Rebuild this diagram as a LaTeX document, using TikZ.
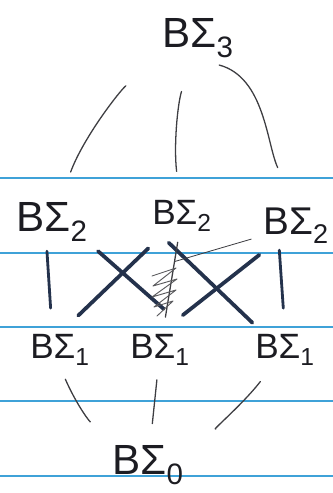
\documentclass[tikz,border=0pt]{standalone}
\usepackage{fontspec}
\setmainfont{Liberation Sans}
\usepackage{tikz}
\usetikzlibrary{positioning,calc}
\definecolor{ink}{HTML}{1C1C22}
\definecolor{navyink}{HTML}{24324C}
\definecolor{pencil}{HTML}{3E3E42}
\definecolor{ruleblue}{HTML}{3FA2D8}
\newcommand{\bsig}[1]{BΣ\textsubscript{#1}}
\tikzset{
    every picture/.style={line cap=round,line join=round},
    sigmanode/.style={text=ink,inner sep=1pt,font=\fontsize{36}{40}\selectfont},
    smallsigma/.style={sigmanode,font=\fontsize{30}{34}\selectfont},
    ruling/.style={draw=ruleblue,line width=0.9pt},
    thinstroke/.style={draw=pencil,line width=1.1pt},
    heavystroke/.style={draw=navyink,line width=3.2pt},
    barstroke/.style={draw=navyink,line width=2.4pt},
    scribble/.style={draw=pencil!85,line width=0.8pt}
}

\begin{document}
\begin{tikzpicture}[x=0.03cm,y=-0.03cm,on grid]
    \useasboundingbox (0,0) rectangle (333,493);
    % lined paper
    \foreach \y in {178,253,327,401,476}
        \draw[ruling] (0,\y)--(333,\y);
    % levels
    \node[sigmanode] (top) at (198,38) {\bsig{3}};
    \node[sigmanode,below left=55.2mm and 43.8mm of top] (l2) {\bsig{2}};
    \node[smallsigma,below left=53.4mm and 4.8mm of top] (m2) {\bsig{2}};
    \node[sigmanode,font=\fontsize{33}{36}\selectfont,below right=56.4mm and 29.4mm of top] (r2) {\bsig{2}};
    \node[smallsigma,below right=38.4mm and 2.4mm of l2] (l1) {\bsig{1}};
    \node[smallsigma,below left=40.2mm and 6.6mm of m2] (m1) {\bsig{1}};
    \node[smallsigma,below left=37.2mm and 3.3mm of r2] (r1) {\bsig{1}};
    \node[sigmanode,below left=34.5mm and 3.6mm of m1] (bot) {\bsig{0}};
    % top fan
    \draw[thinstroke,shorten <=26mm,shorten >=16mm] (top.center) to[bend right=18] (l2.center);
    \draw[thinstroke,shorten <=16.8mm,shorten >=13.5mm] (top.center) to[bend right=12] (m2.center);
    \draw[thinstroke,shorten <=6.6mm,shorten >=13mm] (top.south) to[out=-15,in=115] (r2.north);
    % middle crossings
    \draw[barstroke,shorten <=2.4mm,shorten >=7.5mm] ($(l2.south)!0.15!(l2.south west)$)
        --($(l1.north)!0.25!(l1.north west)$);
    \draw[heavystroke,shorten <=3.6mm,shorten >=11mm] (l2.south east)--(m1.north east);
    \draw[heavystroke,shorten <=14mm,shorten >=7.6mm] (m2.center)--(l1.north);
    \draw[heavystroke,shorten <=4.2mm,shorten >=4.5mm] ($(m2.south west)!0.25!(m2.south)$)
        --($(r1.north west)!0.3!(r1.north)$);
    \draw[heavystroke,shorten <=14mm,shorten >=8.7mm] (r2.center)--(m1.north);
    \draw[barstroke,shorten <=1.5mm,shorten >=7.5mm] ($(r2.south)!0.5!(r2.south west)$)--(r1.north);
    \draw[thinstroke,shorten <=8mm,shorten >=10mm] (m2.center)--(m1.center)
        coordinate[pos=0.34] (cross);
    \draw[thinstroke,line width=0.7pt,shorten >=14mm] (cross)--(r2.center);
    \draw[scribble] (152,276)--(176,268)--(153,286)--(177,279)--(152,297)
        --(176,290)--(154,307)--(173,301)--(157,316);
    % bottom fan
    \draw[thinstroke,shorten <=4mm,shorten >=9mm] (l1.south) to[bend right=10] (bot.north west);
    \draw[thinstroke,shorten <=9mm,shorten >=12.5mm] (m1.center)--(bot.center);
    \draw[thinstroke,shorten <=12mm,shorten >=23mm] (r1.center) to[bend left=12] (bot.center);
\end{tikzpicture}
\end{document}
